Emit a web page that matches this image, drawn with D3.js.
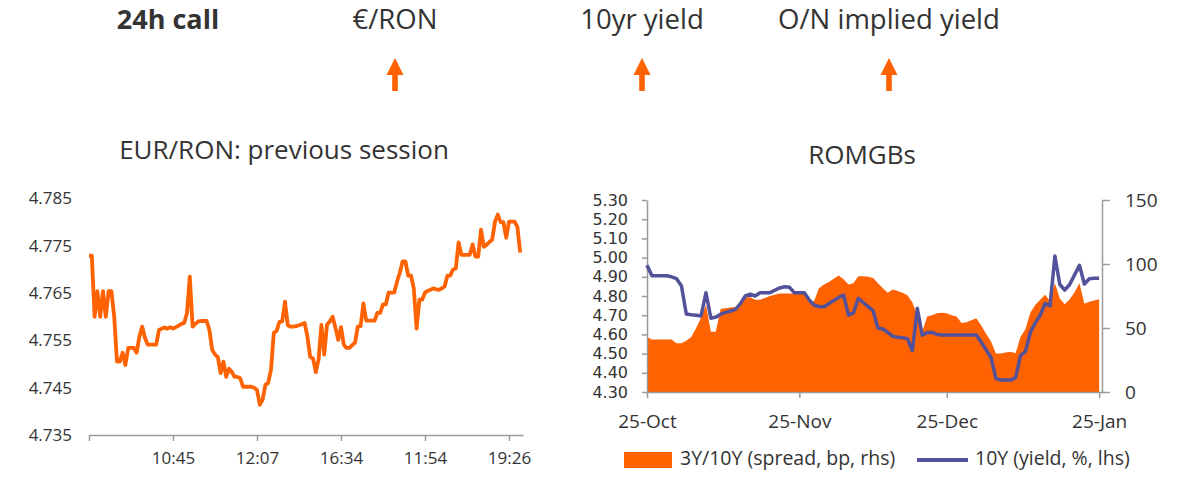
<!DOCTYPE html>
<html>
<head>
<meta charset="utf-8">
<script src="https://cdn.jsdelivr.net/npm/d3@7"></script>
<style>
  body { margin: 0; background: #fff; }
  text { font-family: "Open Sans", sans-serif; fill: #333; }
</style>
</head>
<body>
<div id="chart"></div>
<script>
// header: 24h call
const callLabels = ["€/RON", "10yr yield", "O/N implied yield"];
const callDirections = ["up", "up", "up"];

// EUR/RON previous session (intraday points)
const eurRon = [
  4.7729, 4.7729, 4.7600, 4.7654, 4.7600, 4.7654, 4.7600, 4.7654, 4.7654, 4.7600,
  4.7505, 4.7505, 4.7524, 4.7498, 4.7534, 4.7534, 4.7534, 4.7524, 4.7558, 4.7579,
  4.7555, 4.7541, 4.7541, 4.7541, 4.7541, 4.7572, 4.7575, 4.7577, 4.7575, 4.7578,
  4.7575, 4.7578, 4.7581, 4.7585, 4.7587, 4.7608, 4.7685, 4.7579, 4.7585, 4.7590,
  4.7591, 4.7591, 4.7591, 4.7572, 4.7530, 4.7520, 4.7515, 4.7481, 4.7505, 4.7473,
  4.7490, 4.7483, 4.7473, 4.7473, 4.7470, 4.7452, 4.7452, 4.7452, 4.7452, 4.7450,
  4.7445, 4.7414, 4.7425, 4.7456, 4.7460, 4.7488, 4.7566, 4.7570, 4.7589, 4.7590,
  4.7632, 4.7582, 4.7579, 4.7579, 4.7580, 4.7582, 4.7584, 4.7587, 4.7558, 4.7515,
  4.7512, 4.7483, 4.7510, 4.7583, 4.7520, 4.7583, 4.7590, 4.7600, 4.7577, 4.7551,
  4.7578, 4.7541, 4.7534, 4.7534, 4.7540, 4.7545, 4.7579, 4.7580, 4.7628, 4.7592,
  4.7592, 4.7592, 4.7592, 4.7608, 4.7608, 4.7626, 4.7626, 4.7651, 4.7651, 4.7651,
  4.7674, 4.7693, 4.7717, 4.7717, 4.7687, 4.7687, 4.7660, 4.7575, 4.7636, 4.7636,
  4.7651, 4.7655, 4.7657, 4.7660, 4.7658, 4.7657, 4.7660, 4.7664, 4.7687, 4.7687,
  4.7700, 4.7702, 4.7757, 4.7731, 4.7731, 4.7731, 4.7731, 4.7753, 4.7727, 4.7727,
  4.7784, 4.7748, 4.7752, 4.7758, 4.7763, 4.7801, 4.7816, 4.7800, 4.7800, 4.7767,
  4.7801, 4.7801, 4.7801, 4.7790, 4.7736
];
const sessionTicks = [0, 30, 60, 90, 120, 150];
const sessionTickLabels = ["", "10:45", "12:07", "16:34", "11:54", "19:26"];
const eurRonTicks = [4.735, 4.745, 4.755, 4.765, 4.775, 4.785];

// ROMGBs, daily from 25-Oct
const romgbDates = d3.timeDays(new Date(2021, 9, 25), new Date(2022, 0, 26));
const yield10y = [
  4.960, 4.905, 4.905, 4.905, 4.905, 4.900, 4.890, 4.853, 4.706, 4.702,
  4.700, 4.696, 4.817, 4.684, 4.690, 4.705, 4.715, 4.722, 4.730, 4.760,
  4.800, 4.810, 4.800, 4.817, 4.817, 4.817, 4.830, 4.842, 4.848, 4.845,
  4.817, 4.817, 4.817, 4.780, 4.752, 4.745, 4.744, 4.760, 4.776, 4.793,
  4.805, 4.700, 4.712, 4.788, 4.766, 4.744, 4.724, 4.632, 4.628, 4.610,
  4.590, 4.585, 4.583, 4.578, 4.515, 4.736, 4.595, 4.610, 4.610, 4.600,
  4.597, 4.597, 4.597, 4.597, 4.597, 4.597, 4.597, 4.597, 4.560, 4.520,
  4.480, 4.370, 4.362, 4.362, 4.362, 4.375, 4.490, 4.510, 4.610, 4.660,
  4.700, 4.760, 4.748, 5.008, 4.860, 4.831, 4.860, 4.910, 4.960, 4.862,
  4.890, 4.893, 4.893
];
const spread3y10y = [
  43, 41, 41, 41, 41, 41, 38, 38, 40, 43,
  50, 58, 68, 47, 47, 65, 65.5, 66, 66.5, 70,
  74, 74, 72, 72, 73.5, 75, 76, 77, 77, 77,
  77, 77, 77, 70, 71, 81, 84, 86, 88.5, 91,
  88, 84, 85, 90.5, 90.5, 90, 89, 85, 81, 77.5,
  80, 79, 77.5, 75.5, 70, 60, 47, 58.9, 60, 61.5,
  62, 61.5, 60, 59, 54, 54.5, 56, 57.7, 52, 45.5,
  39.5, 30, 30, 30.8, 31.5, 30.3, 43, 49, 62, 68,
  72, 76, 71, 85, 73, 68.5, 72.5, 78, 85, 69,
  70.5, 71.5, 72.5
];
const monthTicks = [new Date(2021, 9, 25), new Date(2021, 10, 25), new Date(2021, 11, 25), new Date(2022, 0, 25)];
const yieldTicks = [4.3, 4.4, 4.5, 4.6, 4.7, 4.8, 4.9, 5.0, 5.1, 5.2, 5.3];
const spreadTicks = [0, 50, 100, 150];
const legendLabels = ["3Y/10Y (spread, bp, rhs)", "10Y (yield, %, lhs)"];

const orange = "#FF6200";
const indigo = "#525199";
const axisGrey = "#9a9a9a";

const svg = d3.select("#chart")
  .append("svg")
    .attr("width", 1200)
    .attr("height", 493);

// ---- header ----
svg.append("text")
  .attr("x", 168).attr("y", 22)
  .attr("text-anchor", "middle")
  .attr("dominant-baseline", "middle")
  .style("font-size", "27px")
  .style("font-weight", "bold")
  .text("24h call");

const callX = d3.scalePoint()
  .domain(callLabels)
  .range([395, 889]);

svg.selectAll(".call")
  .data(callLabels)
  .enter()
  .append("text")
    .attr("x", d => callX(d))
    .attr("y", 22)
    .attr("text-anchor", "middle")
    .attr("dominant-baseline", "middle")
    .style("font-size", "27.5px")
    .text(d => d);

// up arrows
svg.selectAll(".arrow")
  .data(callLabels)
  .enter()
  .append("path")
    .attr("transform", (d, i) => `translate(${callX(d)},0) rotate(${callDirections[i] == "up" ? 0 : 180}, 0, 75)`)
    .attr("d", "M-8.5,75 L0,58 L8.5,75 L2.8,75 L2.8,91 L-2.8,91 L-2.8,75 Z")
    .style("fill", orange);

// ---- left chart: EUR/RON ----
svg.append("text")
  .attr("x", 284).attr("y", 152)
  .attr("text-anchor", "middle")
  .attr("dominant-baseline", "middle")
  .style("font-size", "26px")
  .text("EUR/RON: previous session");

const xL = d3.scaleLinear()
  .domain([0, 155])
  .range([89, 523]);
const yL = d3.scaleLinear()
  .domain([4.735, 4.785])
  .range([435, 198.5]);

const xAxisL = svg.append("g")
  .attr("transform", "translate(0,435)")
  .call(d3.axisBottom(xL)
    .tickValues(sessionTicks)
    .tickFormat((d, i) => sessionTickLabels[i])
    .tickSize(6)
    .tickPadding(11)
    .tickSizeOuter(0));
xAxisL.selectAll("path, line").attr("stroke", axisGrey).attr("stroke-width", 1.5);
xAxisL.selectAll("text").style("font-size", "17px").style("fill", "#333");

const yAxisL = svg.append("g")
  .attr("transform", "translate(89,0)")
  .call(d3.axisLeft(yL)
    .tickValues(eurRonTicks)
    .tickFormat(d3.format(".3f"))
    .tickSize(0)
    .tickPadding(17));
yAxisL.select(".domain").remove();
yAxisL.selectAll("text").style("font-size", "17px").style("fill", "#333");

svg.append("path")
  .datum(eurRon)
  .attr("d", d3.line()
    .x((d, i) => xL(i))
    .y(d => yL(d)))
  .style("fill", "none")
  .style("stroke", orange)
  .style("stroke-width", 3.8)
  .style("stroke-linejoin", "round");

// ---- right chart: ROMGBs ----
svg.append("text")
  .attr("x", 862).attr("y", 157)
  .attr("text-anchor", "middle")
  .attr("dominant-baseline", "middle")
  .style("font-size", "26px")
  .text("ROMGBs");

const romgb = romgbDates.map((d, i) => ({ date: d, yld: yield10y[i], spread: spread3y10y[i] }));

const xR = d3.scaleTime()
  .domain([new Date(2021, 9, 25), new Date(2022, 0, 25, 14)])
  .range([647, 1102]);
const yR = d3.scaleLinear()
  .domain([4.3, 5.3])
  .range([392, 200]);
const yR2 = d3.scaleLinear()
  .domain([0, 150])
  .range([392, 200]);

svg.append("path")
  .datum(romgb)
  .attr("d", d3.area()
    .x(d => xR(d.date))
    .y0(yR2(0))
    .y1(d => yR2(d.spread)))
  .style("fill", orange);

const xAxisR = svg.append("g")
  .attr("transform", "translate(0,392)")
  .call(d3.axisBottom(xR)
    .tickValues(monthTicks)
    .tickFormat(d3.timeFormat("%d-%b"))
    .tickSize(6)
    .tickPadding(17)
    .tickSizeOuter(0));

const yAxisR = svg.append("g")
  .attr("transform", "translate(647,0)")
  .call(d3.axisLeft(yR)
    .tickValues(yieldTicks)
    .tickFormat(d3.format(".2f"))
    .tickSize(5)
    .tickPadding(14)
    .tickSizeOuter(0));

const yAxisR2 = svg.append("g")
  .attr("transform", "translate(1102,0)")
  .call(d3.axisRight(yR2)
    .tickValues(spreadTicks)
    .tickSize(8)
    .tickPadding(15)
    .tickSizeOuter(0));

[xAxisR, yAxisR, yAxisR2].forEach(g => {
  g.selectAll("path, line").attr("stroke", axisGrey).attr("stroke-width", 1.5);
  g.selectAll("text").style("font-size", "19px").style("fill", "#333");
});
// the yield labels sit 19px apart, so they need a font with a shorter line box
yAxisR.selectAll("text")
  .style("font-family", "'DejaVu Sans', sans-serif")
  .style("font-size", "16px");

svg.append("path")
  .datum(romgb)
  .attr("d", d3.line()
    .x(d => xR(d.date))
    .y(d => yR(d.yld)))
  .style("fill", "none")
  .style("stroke", indigo)
  .style("stroke-width", 3.5)
  .style("stroke-linejoin", "round");

// legend
const legend = svg.append("g");
legend.append("rect")
  .attr("x", 624).attr("y", 452)
  .attr("width", 48).attr("height", 16)
  .style("fill", orange);
legend.append("text")
  .attr("x", 680).attr("y", 460)
  .attr("dominant-baseline", "middle")
  .style("font-size", "19.5px")
  .text(legendLabels[0]);
legend.append("line")
  .attr("x1", 917).attr("x2", 968)
  .attr("y1", 460).attr("y2", 460)
  .style("stroke", indigo)
  .style("stroke-width", 4);
legend.append("text")
  .attr("x", 975).attr("y", 460)
  .attr("dominant-baseline", "middle")
  .style("font-size", "19.5px")
  .text(legendLabels[1]);
</script>
</body>
</html>
